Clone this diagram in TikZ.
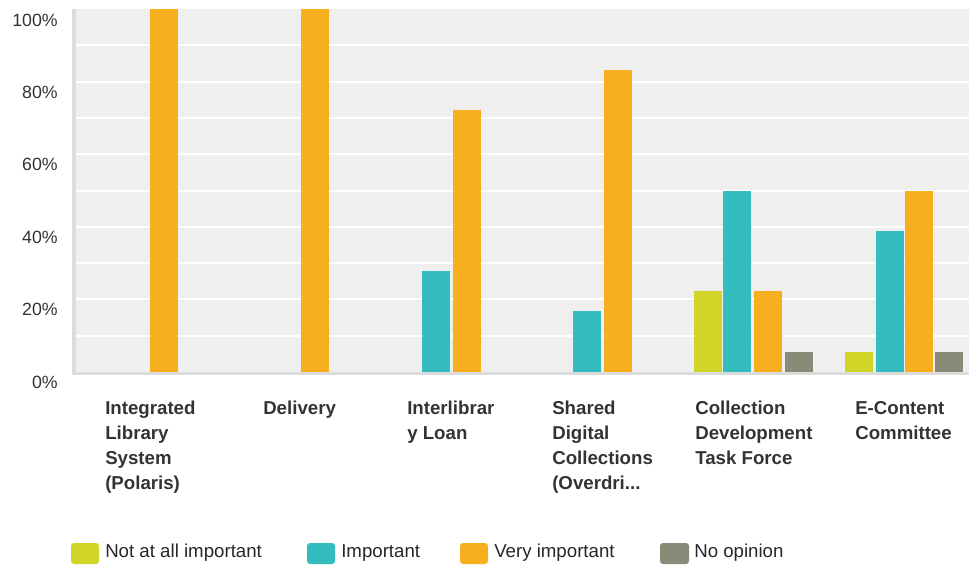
\documentclass[tikz,border=0pt]{standalone}
\usepackage{fontspec}
\setmainfont{Liberation Sans}
\definecolor{cyel}{HTML}{D0D527}
\definecolor{cteal}{HTML}{33BDBF}
\definecolor{corg}{HTML}{F7AF1F}
\definecolor{cgry}{HTML}{8A8A79}
\definecolor{plotbg}{HTML}{EFEFEF}
\definecolor{axisgray}{HTML}{DCDCDC}
\definecolor{txt}{HTML}{333333}
\newcommand\chartbar[3]{\fill[#1] (#2,372) rectangle ({#2+28},{372-3.63*#3});}
\begin{document}
\begin{tikzpicture}[x=0.75pt,y=-0.75pt,
  ylab/.style={anchor=base east, inner sep=0pt, text=txt, font=\fontsize{13.3pt}{16pt}\selectfont},
  catlab/.style={anchor=north west, inner sep=0pt, align=left, text=txt, font=\fontsize{14pt}{18.75pt}\selectfont\bfseries},
  leglab/.style={anchor=base west, inner sep=0pt, text=black!85, font=\fontsize{14pt}{16pt}\selectfont},
  legbox/.style={rounded corners=2.25pt}]
\useasboundingbox (0,0) rectangle (969,565);
% plot area
\fill[plotbg] (76,9) rectangle (969,372);
\foreach \i in {1,...,9} \draw[white, line width=1.5pt] (76,{372-36.3*\i}) -- (969,{372-36.3*\i});
\fill[axisgray] (72,9) rectangle (76,375);
\fill[axisgray] (72,372) rectangle (969,375);
% bars
\chartbar{corg}{150}{100}
\chartbar{corg}{301}{100}
\chartbar{cteal}{422}{27.78}
\chartbar{corg}{453}{72.22}
\chartbar{cteal}{573}{16.67}
\chartbar{corg}{604}{83.33}
\chartbar{cyel}{694}{22.22}
\chartbar{cteal}{723}{50}
\chartbar{corg}{754}{22.22}
\chartbar{cgry}{785}{5.56}
\chartbar{cyel}{845}{5.56}
\chartbar{cteal}{876}{38.89}
\chartbar{corg}{905}{50}
\chartbar{cgry}{935}{5.56}
% y labels
\node[ylab] (y100) at (58,26) {100\%};
\node[ylab] (y80) at (58,98) {80\%};
\node[ylab] (y60) at (58,170) {60\%};
\node[ylab] (y40) at (58,243) {40\%};
\node[ylab] (y20) at (58,315) {20\%};
\node[ylab] (y0) at (58,388) {0\%};
% category labels
\node[catlab] (c1) at (105,400.7) {Integrated\\Library\\System\\(Polaris)};
\node[catlab] (c2) at (263,400.7) {Delivery};
\node[catlab] (c3) at (407,400.7) {Interlibrar\\y Loan};
\node[catlab] (c4) at (552,400.7) {Shared\\Digital\\Collections\\(Overdri...};
\node[catlab] (c5) at (695,400.7) {Collection\\Development\\Task Force};
\node[catlab] (c6) at (855,400.7) {E-Content\\Committee};
% legend
\fill[cyel, legbox] (71,543) rectangle (99,564);
\node[leglab] (l1) at (105,557) {Not at all important};
\fill[cteal, legbox] (307,543) rectangle (335,564);
\node[leglab] (l2) at (341,557) {Important};
\fill[corg, legbox] (460,543) rectangle (488,564);
\node[leglab] (l3) at (494,557) {Very important};
\fill[cgry, legbox] (660,543) rectangle (689,564);
\node[leglab] (l4) at (694,557) {No opinion};
\end{tikzpicture}
\end{document}
